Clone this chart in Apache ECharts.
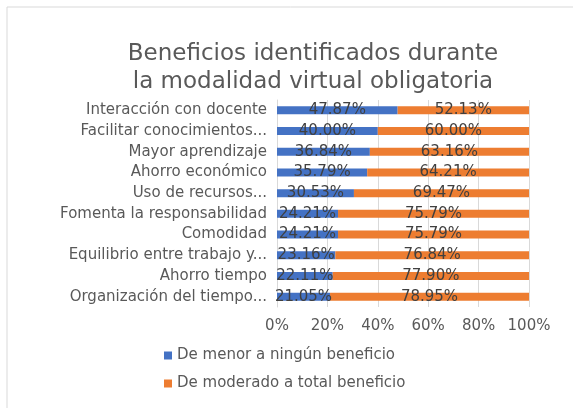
<!DOCTYPE html>
<html>
<head>
<meta charset="utf-8">
<script src="https://cdn.jsdelivr.net/npm/echarts@6/dist/echarts.min.js"></script>
<style>
  html, body { margin: 0; padding: 0; background: #fff; }
  #chart { width: 573px; height: 408px; }
</style>
</head>
<body>
<div id="chart"></div>
<script>
// categorias de arriba hacia abajo
const categories = [
  "Interacción con docente",
  "Facilitar conocimientos...",
  "Mayor aprendizaje",
  "Ahorro económico",
  "Uso de recursos...",
  "Fomenta la responsabilidad",
  "Comodidad",
  "Equilibrio entre trabajo y...",
  "Ahorro tiempo",
  "Organización del tiempo..."
];
const menorBeneficio = [47.87, 40.00, 36.84, 35.79, 30.53, 24.21, 24.21, 23.16, 22.11, 21.05];
const totalBeneficio = [52.13, 60.00, 63.16, 64.21, 69.47, 75.79, 75.79, 76.84, 77.90, 78.95];
const seriesNames = ["De menor a ningún beneficio", "De moderado a total beneficio"];
const xTicks = [0, 20, 40, 60, 80, 100];

const font = "DejaVu Sans";
const dataLabel = {
  show: true,
  position: "inside",
  color: "#404040",
  fontFamily: font,
  fontSize: 15,
  textBorderWidth: 0,
  formatter: (p) => p.value.toFixed(2) + "%"
};

const myChart = echarts.init(document.getElementById("chart"));
myChart.setOption({
  animation: false,
  title: {
    text: "Beneficios identificados durante\nla modalidad virtual obligatoria",
    left: 308,
    top: 35,
    textAlign: "center",
    textStyle: {
      fontFamily: font,
      fontSize: 23,
      fontWeight: "normal",
      color: "#595959",
      lineHeight: 28,
      align: "center"
    }
  },
  graphic: [{
    type: "rect",
    shape: { x: 7, y: 7, width: 600, height: 440 },
    style: { fill: "none", stroke: "#d9d9d9", lineWidth: 1 },
    silent: true
  }],
  legend: {
    orient: "vertical",
    left: 159,
    top: 343,
    itemWidth: 8,
    itemHeight: 8,
    itemGap: 13,
    icon: "rect",
    data: seriesNames,
    textStyle: { fontFamily: font, fontSize: 15, color: "#595959" }
  },
  grid: { left: 277, right: 44, top: 100, bottom: 101 },
  xAxis: {
    type: "value",
    min: 0,
    max: 100,
    interval: xTicks[1] - xTicks[0],
    axisLabel: {
      formatter: "{value}%",
      fontFamily: font,
      fontSize: 15,
      color: "#595959",
      margin: 12
    },
    splitLine: { lineStyle: { color: "#d9d9d9" } },
    axisLine: { show: false },
    axisTick: { show: false }
  },
  yAxis: {
    type: "category",
    inverse: true,
    data: categories,
    axisLabel: {
      fontFamily: font,
      fontSize: 15,
      color: "#595959",
      margin: 10
    },
    axisLine: { show: true, lineStyle: { color: "#d9d9d9" } },
    axisTick: { show: false }
  },
  series: [
    {
      name: seriesNames[0],
      type: "bar",
      stack: "total",
      barWidth: 8,
      itemStyle: { color: "#4472C4" },
      label: dataLabel,
      data: menorBeneficio
    },
    {
      name: seriesNames[1],
      type: "bar",
      stack: "total",
      barWidth: 8,
      itemStyle: { color: "#ED7D31" },
      label: dataLabel,
      data: totalBeneficio
    }
  ]
});
</script>
</body>
</html>
